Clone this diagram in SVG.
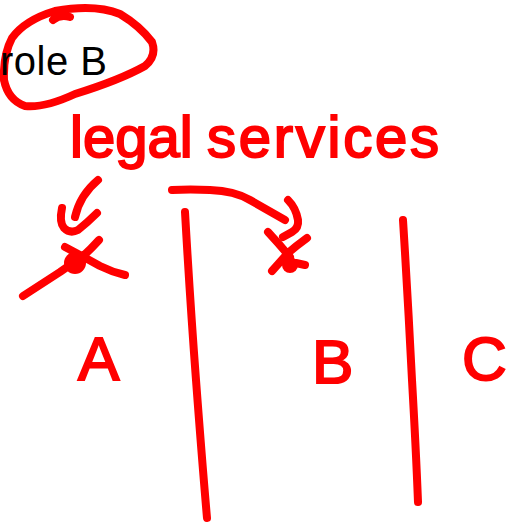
<svg xmlns="http://www.w3.org/2000/svg" width="523" height="525" viewBox="0 0 523 525">
<style>
.ink{fill:none;stroke:#ff0000;stroke-width:8;stroke-linecap:round;stroke-linejoin:round}
.dot{fill:#ff0000}
.hand{font-family:"Liberation Sans",Arial,sans-serif;fill:#ff0000;stroke:#ff0000;stroke-width:2}
.label{font-family:"Liberation Sans",Arial,sans-serif;fill:#000000;font-size:40px}
</style>
<rect width="523" height="525" fill="#ffffff"/>
<g id="role-b">
<path class="ink" d="M53,20 Q60,14 70,17 M4,80 Q3,55 12,38 Q25,20 55,11 Q95,4 120,14 Q140,26 152,42 Q157,56 145,66 Q120,80 75,94 Q45,108 25,106 Q8,100 4,80"/>
<text class="label" x="0" y="75" textLength="107" lengthAdjust="spacing">role B</text>
</g>
<g id="legal-services">
<text class="hand" font-size="58" y="157"><tspan x="70">legal</tspan> <tspan x="207" textLength="232" lengthAdjust="spacing">services</tspan></text>
</g>
<g id="node-a">
<path class="ink" d="M65,247 Q82,256 100,266 Q112,272 125,275 M99,240 Q90,250 82,257 Q70,265 60,272 L23,296"/>
<circle class="dot" cx="75" cy="263" r="11"/>
<text class="hand" font-size="62" x="78" y="380">A</text>
</g>
<g id="node-b">
<path class="ink" d="M268,232 Q280,245 290,257 M307,238 Q296,246 288,253 Q280,262 272,271 M296,263 L305,265"/>
<circle class="dot" cx="290" cy="265" r="8"/>
<text class="hand" font-size="62" x="312" y="383">B</text>
</g>
<g id="node-c">
<text class="hand" font-size="62" x="462" y="380">C</text>
</g>
<g id="connectors">
<path class="ink" d="M98,180 Q80,195 75,217"/>
<path class="ink" d="M62,208 Q59,222 64,228 Q70,234 78,230 Q88,222 97,213"/>
<path class="ink" d="M172,190 Q190,189 210,190 Q235,191 250,200 L285,220"/>
<path class="ink" d="M288,200 Q296,208 298,220 Q299,228 292,232 L283,237"/>
<path class="ink" d="M185,212 Q190,300 196,380 Q202,460 207,518"/>
<path class="ink" d="M403,220 Q408,300 412,380 Q416,450 418,502"/>
</g>
</svg>
